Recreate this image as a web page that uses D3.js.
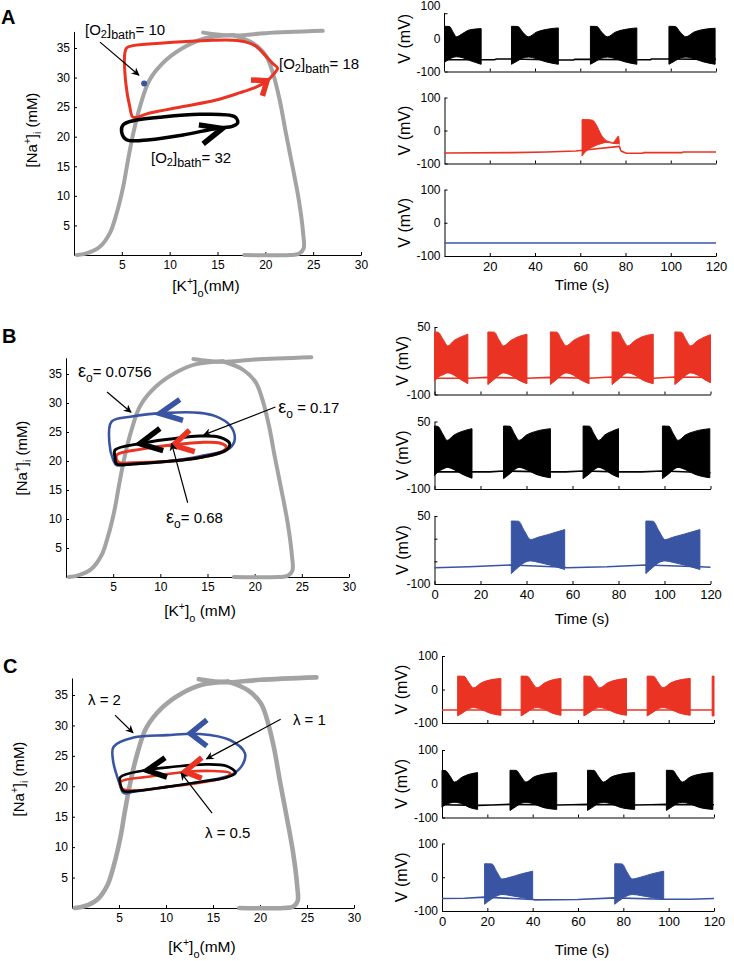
<!DOCTYPE html>
<html><head><meta charset="utf-8">
<script src="https://cdn.jsdelivr.net/npm/d3@7"></script>
<style>
body{margin:0;background:#fff}
svg{display:block}
text{font-family:"Liberation Sans",Arial,Helvetica,sans-serif;fill:#000}
</style>
</head><body>
<svg id="c" width="734" height="961"></svg>
<script>
// ---------------- DATA ----------------
const kTicks = [5, 10, 15, 20, 25, 30];
const naTicks = [5, 10, 15, 20, 25, 30, 35];
const timeTicksA = [20, 40, 60, 80, 100, 120];
const timeTicksBC = [0, 20, 40, 60, 80, 100, 120];
const vTicksAC = [-100, 0, 100];
const vTicksB = [-100, -50, 0, 50];
const vLabelsB = [-100, 50];

// grey curve ([K+]o, [Na+]i)
const grayLeft = [[0.3,0],[1.3,0.28],[2.7,1.4],[3.75,3.7],[4.45,7.0],[5.15,11.6],[5.65,16.1],[6.2,20.6],[6.9,25.1],[7.9,29.6],[9.65,33.0],[11.7,35.3],[13.8,36.7],[16.6,37.2]];
const grayRight = [[16.6,37.2],[18.7,35.8],[20.1,33.6],[20.8,30.7],[21.5,26.2],[22.15,20.6],[22.85,14.9],[23.5,9.3],[23.95,3.7],[24.0,1.1],[23.5,0.2],[22.5,0],[17.8,0]];
const grayTop = [[13.5,37.6],[16.5,37.1],[20,37.5],[26,37.9]];

// Panel A loops
const loopA18 = [[6.18,23.3],[7.92,24.0],[11.39,25.1],[14.86,26.2],[17.29,27.4],[19.03,28.4],[20.07,29.3],[20.94,30.7],[21.28,31.6],[20.76,32.4],[20.07,33.6],[19.03,35.3],[17.99,36.0],[16.6,36.3],[14.51,36.3],[11.74,36.1],[8.96,35.8],[6.18,35.4],[5.49,35.0],[5.31,34.1],[5.42,29.0],[5.83,25.1]];
const loopA32 = [[5.14,22.0],[4.97,20.9],[5.49,19.5],[7.92,19.5],[11.39,20.3],[14.86,21.4],[16.6,21.8],[17.12,22.4],[16.77,23.4],[13.13,23.8],[8.96,23.3],[6.18,22.7]];
const pointA10 = [7.33, 29.0];

// Panel B loops
const loopB0756 = [[4.83,26.8],[7.13,27.7],[10.65,28.3],[14.2,28.3],[15.9,27.7],[17.35,26.2],[17.9,23.9],[17.35,22.2],[14.2,20.8],[10.65,19.9],[7.13,19.5],[5.36,19.3],[5.0,20.2],[4.6,23.1]];
const loopB017 = [[5.19,21.9],[7.83,23.0],[10.65,23.7],[14.2,24.3],[16.3,24.1],[17.35,23.0],[17.0,21.9],[14.2,20.6],[10.65,19.9],[7.13,19.5],[5.36,19.5],[5.19,20.7]];
const loopB068 = [[5.36,21.0],[7.83,22.0],[11.36,22.8],[14.2,23.2],[16.3,23.1],[17.0,22.4],[16.3,21.4],[14.2,20.6],[10.65,19.9],[7.13,19.7],[5.54,19.8]];

// Panel C loops
const loopC2 = [[4.43,26.5],[6.55,28.0],[10.1,28.4],[13.6,28.6],[16.8,27.6],[18.4,25.4],[18.2,23.7],[17.2,22.1],[13.6,20.7],[10.1,19.9],[6.55,19.1],[5.5,18.9],[5.07,20.4],[4.36,24.3]];
const loopC1 = [[5.14,21.5],[7.6,22.6],[10.8,23.2],[14.3,23.6],[16.5,23.3],[17.4,22.2],[16.5,21.5],[13.6,20.7],[10.1,19.9],[6.55,19.2],[5.5,19.2],[5.14,20.4]];
const loopC05 = [[5.14,20.7],[8.3,21.6],[12.2,22.4],[15.05,22.5],[16.8,22.2],[16.6,21.6],[13.6,20.6],[10.1,19.9],[6.55,19.3],[5.3,19.6]];

// direction chevrons: [wing, tip, wing]
const chevA = [[[18.5,29.6],[20.17,29.44],[19.7,26.9]], [[13.05,22.0],[15.5,21.4],[13.5,18.8]]];
const chevB = [[[12.06,30.6],[9.95,28.2],[12.4,27.0]], [[9.95,25.6],[7.83,23.0],[10.3,21.8]], [[13.1,25.3],[11.36,22.7],[13.65,21.6]]];
const chevC = [[[14.35,30.9],[12.58,28.7],[14.35,26.6]], [[9.9,24.7],[7.97,22.6],[10.1,21.5]], [[13.8,24.7],[12.0,22.4],[13.8,21.3]]];

// annotation pointers [x1,y1,x2,y2] in data units
const pointersA = [[2.72,36.0,6.79,30.4]];
const pointersB = [[4.35,31.9,6.89,28.4],[22.2,29.3,14.6,24.5],[12.9,12.8,11.2,23.0]];
const pointersC = [[4.57,31.7,6.49,28.8],[22.2,31.0,14.3,24.5],[14.9,15.6,11.6,22.2]];

// membrane potential: quiescent baseline [t, mV] and burst envelopes [t, upper, lower]
const baseA1 = [[0,-64],[16,-64],[22,-64],[23,-62],[30,-62],[50,-65],[57,-65],[57.5,-63],[65,-63],[85,-64],[91,-64],[91.5,-62],[99,-62],[120,-63]];
const burstsA1 = [
 [[0,38,-72],[2.2,37.5,-62],[3.8,20,-57],[5.2,6,-55],[8,16,-58],[11,27,-66],[16.2,31,-78]],
 [[29.6,38,-78],[32.4,37.5,-67],[34.6,20,-59],[37.1,6,-56],[40.6,20,-61],[44.6,28,-70],[50.3,33,-78]],
 [[64.5,38,-78],[67.3,37.5,-67],[69.5,20,-59],[72,6,-56],[75.5,20,-61],[79.5,28,-70],[85,33,-78]],
 [[99.2,38,-78],[102,37.5,-67],[104.2,20,-59],[106.7,6,-56],[110.2,20,-61],[114.2,28,-70],[119.6,32,-78]]];
const baseA2 = [[0,-68],[30,-67],[45,-65],[58,-62],[61,-60],[77.3,-48],[78,-62],[80.3,-69],[87.6,-69],[88,-67],[105,-67],[105.5,-65],[120,-65]];
const burstsA2 = [
 [[60.8,33,-77],[63,33,-60],[65.5,31,-50],[67,18,-45],[69.2,-12,-40],[71.4,-30,-36],[73,-34,-37],[74.4,-37,-39],[76,-24,-40],[76.9,-17,-39],[77.3,-40,-42]]];
const baseA3 = [[0,-61],[120,-61]];
const burstsA3 = [];

const baseB1 = [[0,-64],[14.5,-64],[23.2,-62],[40.2,-64],[50.4,-62],[67.2,-64],[77.2,-61],[95.1,-64],[104.5,-61],[120,-62]];
const burstsB1 = [
 [[0,39,-70],[1.5,38.5,-62],[3.8,22,-56],[5.8,8,-52],[8.5,20,-57],[11.5,28,-67],[14.5,34,-76]],
 [[23.2,39,-78],[26,38.5,-66],[28,22,-57],[30,8,-52],[33.2,20,-57],[36.2,28,-67],[40.2,34,-76]],
 [[50.4,39,-78],[53.2,38.5,-66],[55.2,22,-57],[57.2,8,-52],[60.4,20,-57],[63.4,28,-67],[67.2,34,-76]],
 [[77.2,39,-78],[80,38.5,-66],[82,22,-57],[84,8,-52],[87.2,20,-57],[90.2,28,-67],[95.1,34,-76]],
 [[104.5,39,-78],[107.3,38.5,-66],[109.3,22,-57],[111.3,8,-52],[114.5,20,-57],[117.5,28,-67],[120,33,-74]]];
const baseB2 = [[0,-62],[16.3,-62],[24,-62],[30,-60],[50.4,-62],[57,-62],[64.6,-60],[80,-62],[90,-62],[99.1,-60],[119.7,-64],[120,-64]];
const burstsB2 = [
 [[0,40,-70],[1.5,39,-62],[3.6,22,-56],[5.5,8,-52],[8.5,20,-57],[12,28,-67],[16.3,34,-76]],
 [[30,40,-77],[32.8,39.5,-66],[34.8,22,-57],[36.8,8,-52],[40,20,-57],[44,28,-67],[50.4,34,-75]],
 [[64.6,40,-77],[67.4,39.5,-66],[69.4,22,-57],[71.4,8,-52],[74,20,-57],[77,28,-67],[80,34,-74]],
 [[99.1,40,-77],[101.9,39.5,-66],[103.9,22,-57],[105.9,8,-52],[109.1,20,-57],[113.1,28,-67],[119.7,34,-75]]];
const baseB3 = [[0,-64],[15,-62],[33.4,-58],[56.6,-63],[57.5,-64],[75,-62],[91.9,-58],[115.4,-62],[120,-63]];
const burstsB3 = [
 [[33.4,39,-77],[36.5,38.5,-63],[39,18,-53],[41.8,-2,-49],[45,3,-52],[50,10,-58],[56.6,20,-68]],
 [[91.9,39,-77],[95,38.5,-63],[97.5,18,-53],[100.3,-2,-49],[103.5,3,-52],[108.5,10,-58],[115.4,20,-68]]];

const baseC1 = [[0,-61],[120,-61]];
const burstsC1 = [
 [[6.9,40,-79],[9.7,39.5,-67],[11.7,22,-58],[13.9,5,-54],[17.4,20,-60],[20.9,28,-70],[26,33,-77]],
 [[34.9,40,-79],[37.7,39.5,-67],[39.7,22,-58],[41.9,5,-54],[45.4,20,-60],[48.4,28,-70],[52.5,33,-77]],
 [[62.6,40,-79],[65.4,39.5,-67],[67.4,22,-58],[69.6,5,-54],[73.1,20,-60],[76.6,28,-70],[81.4,33,-77]],
 [[90.5,40,-79],[93.3,39.5,-67],[95.3,22,-58],[97.5,5,-54],[101,20,-60],[104.5,28,-70],[109.5,33,-77]],
 [[119.2,40,-79],[120,40,-79]]];
const baseC2 = [[0,-62],[15.7,-64],[22,-63],[30,-61],[50.6,-63],[57,-62],[64.2,-61],[85,-63],[92,-62],[99,-61],[119.5,-62],[120,-62]];
const burstsC2 = [
 [[0,40,-70],[1.5,39,-62],[3.6,22,-57],[5.5,5,-55],[9,20,-60],[12,28,-70],[15.7,33,-76]],
 [[30,40,-79],[32.8,39.5,-67],[34.8,22,-58],[37,5,-55],[40.5,20,-60],[44.5,28,-70],[50.6,33,-76]],
 [[64.2,40,-79],[67,39.5,-67],[69,22,-58],[71.2,5,-55],[74.7,20,-60],[78.7,28,-70],[85,33,-76]],
 [[99,40,-79],[101.8,39.5,-67],[103.8,22,-58],[106,5,-55],[109.5,20,-60],[113.5,28,-70],[119.5,33,-76]]];
const baseC3 = [[0,-63],[10,-62],[18.8,-59],[40,-66],[41,-67],[60,-66],[76.2,-61],[97.8,-65],[110,-65],[120,-63]];
const burstsC3 = [
 [[18.8,40,-80],[22,39.5,-64],[24.3,15,-55],[26.5,-5,-51],[30,0,-54],[35,10,-60],[40,18,-66]],
 [[76.2,40,-80],[79.4,39.5,-64],[81.7,15,-55],[84,-5,-51],[87.5,0,-54],[92.5,10,-60],[97.8,18,-66]]];

// ---------------- STYLE ----------------
const RED = "#ea3323", BLUE = "#3a54a4", GRAY = "#a3a3a3", BLACK = "#000";
const svg = d3.select("#c");
const defs = svg.append("defs");
defs.append("marker").attr("id","ah").attr("viewBox","0 0 10 10").attr("refX",9).attr("refY",5)
  .attr("markerWidth",9).attr("markerHeight",8).attr("markerUnits","userSpaceOnUse").attr("orient","auto")
  .append("path").attr("d","M0,0L10,5L0,10L3,5Z").attr("fill","#000");

function rich(g, x, y, parts, anchor, rotate) {
  const t = g.append("text").attr("x", x).attr("y", y).attr("text-anchor", anchor || "start");
  if (rotate) t.attr("transform", `rotate(-90,${x},${y})`);
  parts.forEach(p => t.append("tspan").text(p[0]).attr("font-size", p[1]).attr("dy", p[2] || 0));
  return t;
}
function styleAxis(sel, fs) {
  sel.selectAll(".domain").attr("stroke", "#000").attr("stroke-width", 1);
  sel.selectAll(".tick line").attr("stroke", "#000");
  sel.selectAll(".tick text").attr("font-size", fs).attr("fill", "#000")
     .style("font-family", '"Liberation Sans",Arial,sans-serif');
}

// ---------------- PHASE PLANES ----------------
function phasePanel(L) {
  const x = d3.scaleLinear().domain([0, 30]).range([L.x0, L.x1]);
  const y = d3.scaleLinear().domain([0, 35]).range([L.y0, L.y35]);
  const g = svg.append("g");
  const ax = d3.axisBottom(x).tickValues(kTicks).tickSizeInner(-3).tickSizeOuter(0).tickPadding(5).tickFormat(d => String(d));
  styleAxis(g.append("g").attr("transform", `translate(0,${L.y0})`).call(ax), 12);
  const yTop = y(37.8);
  const ay = d3.axisLeft(d3.scaleLinear().domain([0, 37.8]).range([L.y0, yTop])).tickValues(naTicks)
    .tickSizeInner(-3).tickSizeOuter(0).tickPadding(4).tickFormat(d => String(d));
  styleAxis(g.append("g").attr("transform", `translate(${L.x0},0)`).call(ay), 12);

  const line = d3.line().x(d => x(d[0])).y(d => y(d[1])).curve(d3.curveCatmullRom.alpha(0.5));
  [grayLeft, grayRight, grayTop].forEach(p => g.append("path").attr("d", line(p)).attr("fill", "none")
    .attr("stroke", GRAY).attr("stroke-width", L.grayW).attr("stroke-linecap", "round"));
  const cl = d3.line().x(d => x(d[0])).y(d => y(d[1])).curve(d3.curveCatmullRomClosed.alpha(0.5));
  L.loops.forEach(l => g.append("path").attr("d", cl(l.pts)).attr("fill", "none")
    .attr("stroke", l.color).attr("stroke-width", l.w).attr("stroke-linejoin", "round"));
  const pl = d3.line().x(d => x(d[0])).y(d => y(d[1]));
  L.chevrons.forEach((c, i) => g.append("path").attr("d", pl(c)).attr("fill", "none")
    .attr("stroke", L.chevColors[i]).attr("stroke-width", 5.5).attr("stroke-linejoin", "miter").attr("stroke-linecap", "butt"));
  if (L.dot) g.append("circle").attr("cx", x(L.dot[0])).attr("cy", y(L.dot[1])).attr("r", 3).attr("fill", BLUE);
  L.pointers.forEach(p => g.append("line").attr("x1", x(p[0])).attr("y1", y(p[1])).attr("x2", x(p[2])).attr("y2", y(p[3]))
    .attr("stroke", "#000").attr("stroke-width", 1.2).attr("marker-end", "url(#ah)"));
  L.notes.forEach(n => rich(g, x(n.x), y(n.y), n.parts));
  // axis labels
  rich(g, L.ylabX, L.ylabY, [["[Na", 15], ["+", 10, -6], ["]", 15, 6], ["i", 10, 4], [" (mM)", 15, -4]], "middle", true);
  rich(g, L.xlabX, L.xlabY, [["[K", 15.5], ["+", 10.5, -6], ["]", 15.5, 6], ["o", 11, 6], [L.xlabTail, 15.5, -6]], "middle");
  g.append("text").attr("x", L.letX).attr("y", L.letY).attr("font-size", 20).attr("font-weight", "bold").text(L.letter);
}

const o2 = v => [["[O", 15], ["2", 11, 3], ["]", 15, -3], ["bath", 12.5, 4], ["= " + v, 15, -4]];
const eps = (v, sp) => [["ε", 18], ["o", 12, 5], [(sp ? " = " : "= ") + v, 15, -5]];
const lam = v => [["λ = " + v, 15]];

phasePanel({letter: "A", letX: 1, letY: 24, x0: 74, x1: 361, y0: 255, y35: 48, grayW: 4,
  ylabX: 37, ylabY: 130, xlabX: 206, xlabY: 291, xlabTail: "(mM)",
  loops: [{pts: loopA18, color: RED, w: 3}, {pts: loopA32, color: BLACK, w: 3.5}],
  chevrons: chevA, chevColors: [RED, BLACK], dot: pointA10, pointers: pointersA,
  notes: [{x: 1.15, y: 37.2, parts: o2(10)}, {x: 21.43, y: 31.45, parts: o2(18)}, {x: 8.05, y: 15.56, parts: o2(32)}]});

phasePanel({letter: "B", letX: 2, letY: 343, x0: 66, x1: 349, y0: 577, y35: 374, grayW: 4,
  ylabX: 27, ylabY: 458, xlabX: 200, xlabY: 616, xlabTail: " (mM)",
  loops: [{pts: loopB0756, color: BLUE, w: 2.6}, {pts: loopB068, color: RED, w: 3}, {pts: loopB017, color: BLACK, w: 3}],
  chevrons: chevB, chevColors: [BLUE, BLACK, RED], pointers: pointersB,
  notes: [{x: 1.27, y: 34.5, parts: eps("0.0756")}, {x: 22.5, y: 28.3, parts: eps("0.17", true)}, {x: 10.6, y: 9.3, parts: eps("0.68")}]});

phasePanel({letter: "C", letX: 3, letY: 673, x0: 72, x1: 354, y0: 908, y35: 695, grayW: 4.6,
  ylabX: 24, ylabY: 779, xlabX: 202, xlabY: 952, xlabTail: "(mM)",
  loops: [{pts: loopC2, color: BLUE, w: 2.6}, {pts: loopC05, color: RED, w: 2.6}, {pts: loopC1, color: BLACK, w: 2.6}],
  chevrons: chevC, chevColors: [BLUE, BLACK, RED], pointers: pointersC,
  notes: [{x: 1.7, y: 33.4, parts: lam(2)}, {x: 23.5, y: 30.1, parts: lam(1)}, {x: 14.15, y: 11.5, parts: lam(0.5)}]});

// ---------------- VOLTAGE TRACES ----------------
function tracePanel(T) {
  const x = d3.scaleLinear().domain([0, 120]).range([T.x0, T.x1]);
  const g = svg.append("g");
  T.rows.forEach((r, i) => {
    const y = d3.scaleLinear().domain(T.vDomain).range([r.lo, r.hi]);
    const last = i === T.rows.length - 1;
    const ax = d3.axisBottom(x).tickValues(T.tTicks).tickSizeInner(-3).tickSizeOuter(0).tickPadding(6)
      .tickFormat(d => last ? String(d) : "");
    styleAxis(g.append("g").attr("transform", `translate(0,${r.lo})`).call(ax), 13);
    const ay = d3.axisLeft(y).tickValues(T.vTicks).tickSizeInner(-3).tickSizeOuter(0).tickPadding(4)
      .tickFormat(d => T.vLabels.includes(d) ? String(d) : "");
    const ayg = g.append("g").attr("transform", `translate(${T.x0},0)`).call(ay);
    styleAxis(ayg, 12);
    if (r.clipTop !== undefined) {
      const yt = y(r.clipTop);
      ayg.select(".domain").attr("d", `M0,${yt}V${r.lo}`);
      ayg.selectAll(".tick").filter(d => d === T.vDomain[1]).select("line").attr("transform", `translate(0,${yt - y(T.vDomain[1])})`);
    }
    const line = d3.line().x(d => x(d[0])).y(d => y(d[1]));
    g.append("path").attr("d", line(r.base)).attr("fill", "none").attr("stroke", r.color)
      .attr("stroke-width", 1.6).attr("stroke-linejoin", "round");
    const area = d3.area().x(d => x(d[0])).y0(d => y(d[2])).y1(d => y(d[1])).curve(d3.curveMonotoneX);
    r.bursts.forEach(b => g.append("path").attr("d", area(b)).attr("fill", r.color).attr("stroke", r.color)
      .attr("stroke-width", 1).attr("stroke-linejoin", "round"));
    rich(g, T.vlabX, (r.lo + r.hi) / 2, [["V (mV)", 16]], "middle", true);
  });
  g.append("text").attr("x", T.timeX).attr("y", T.timeY).attr("text-anchor", "middle").attr("font-size", 15).text("Time (s)");
}

tracePanel({x0: 444.5, x1: 716, vDomain: [-100, 100], vTicks: vTicksAC, vLabels: vTicksAC, tTicks: timeTicksA,
  vlabX: 410, timeX: 582, timeY: 290,
  rows: [{lo: 71.5, hi: 6, base: baseA1, bursts: burstsA1, color: BLACK, clipTop: 78},
         {lo: 163.5, hi: 97.5, base: baseA2, bursts: burstsA2, color: RED},
         {lo: 256, hi: 189.5, base: baseA3, bursts: burstsA3, color: BLUE}]});
tracePanel({x0: 434.5, x1: 710.5, vDomain: [-100, 50], vTicks: vTicksB, vLabels: vLabelsB, tTicks: timeTicksBC,
  vlabX: 408, timeX: 582, timeY: 624,
  rows: [{lo: 394.5, hi: 327, base: baseB1, bursts: burstsB1, color: RED},
         {lo: 489, hi: 421.5, base: baseB2, bursts: burstsB2, color: BLACK},
         {lo: 584, hi: 516, base: baseB3, bursts: burstsB3, color: BLUE}]});
tracePanel({x0: 442, x1: 714, vDomain: [-100, 100], vTicks: vTicksAC, vLabels: vTicksAC, tTicks: timeTicksBC,
  vlabX: 407, timeX: 582, timeY: 955,
  rows: [{lo: 723, hi: 656, base: baseC1, bursts: burstsC1, color: RED},
         {lo: 817.5, hi: 750, base: baseC2, bursts: burstsC2, color: BLACK},
         {lo: 911, hi: 843.5, base: baseC3, bursts: burstsC3, color: BLUE}]});
</script>
</body></html>
